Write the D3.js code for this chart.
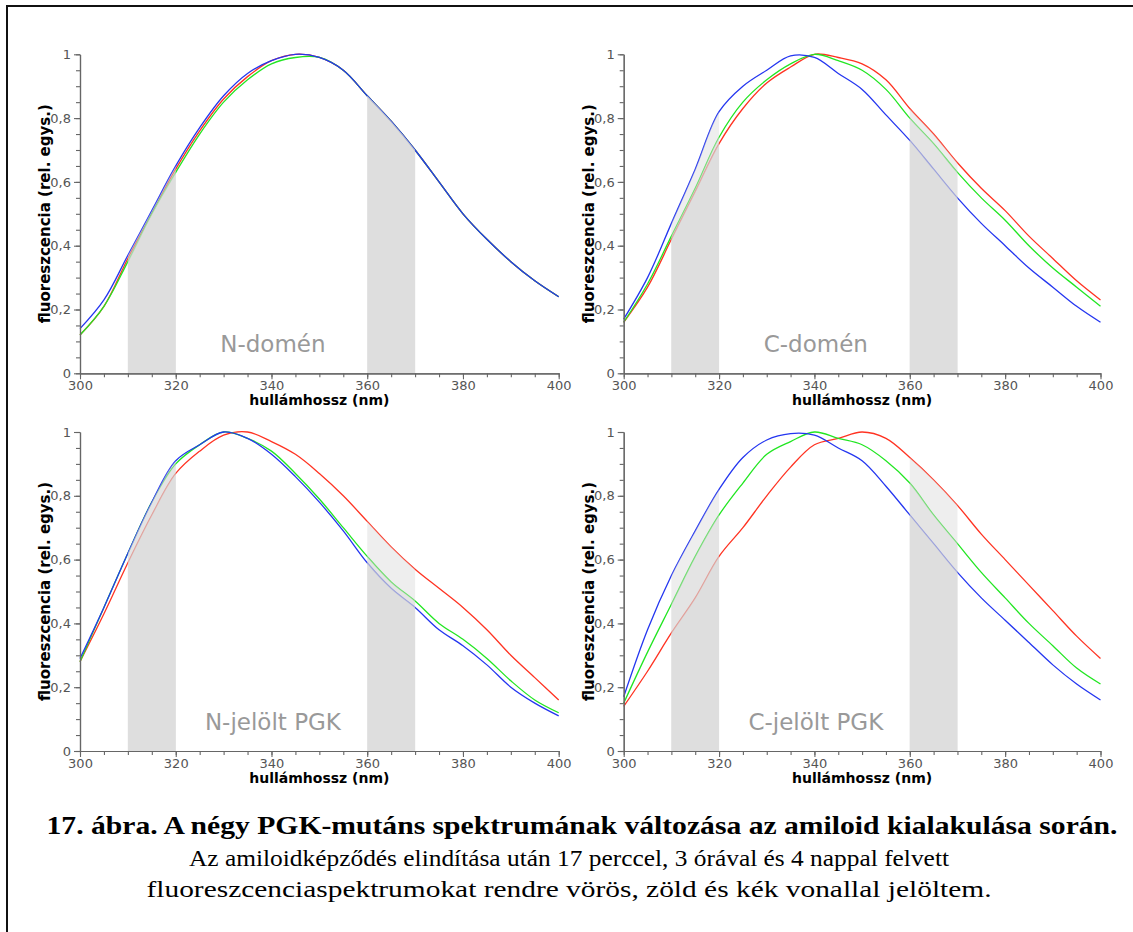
<!DOCTYPE html>
<html>
<head>
<meta charset="utf-8">
<script src="https://cdn.jsdelivr.net/npm/d3@7"></script>
<style>
  body { margin: 0; background: #fff; }
</style>
</head>
<body>
<div id="chart"></div>
<script>
// wavelength grid (nm)
const wavelengths = [300,305,310,315,320,325,330,335,340,345,350,355,360,365,370,375,380,385,390,395,400]

// N-domén
const nDomRed   = [0.12,0.21,0.36,0.50,0.64,0.76,0.86,0.93,0.98,1.00,0.99,0.95,0.87,0.79,0.70,0.60,0.50,0.42,0.35,0.29,0.24]
const nDomGreen = [0.12,0.21,0.35,0.50,0.63,0.75,0.85,0.92,0.97,0.99,0.99,0.95,0.87,0.79,0.70,0.60,0.50,0.42,0.35,0.29,0.24]
const nDomBlue  = [0.14,0.23,0.37,0.51,0.65,0.77,0.87,0.94,0.98,1.00,0.99,0.95,0.87,0.79,0.70,0.60,0.50,0.42,0.35,0.29,0.24]
// C-domén
const cDomRed   = [0.16,0.27,0.42,0.57,0.72,0.83,0.91,0.96,1.00,0.99,0.97,0.92,0.83,0.75,0.66,0.58,0.51,0.43,0.36,0.29,0.23]
const cDomGreen = [0.16,0.28,0.43,0.58,0.74,0.85,0.92,0.97,1.00,0.98,0.95,0.89,0.80,0.72,0.63,0.55,0.48,0.40,0.33,0.27,0.21]
const cDomBlue  = [0.17,0.30,0.47,0.64,0.82,0.90,0.95,0.995,0.99,0.94,0.89,0.81,0.73,0.64,0.55,0.47,0.40,0.33,0.27,0.21,0.16]
// N-jelölt PGK
const nPgkRed   = [0.28,0.43,0.59,0.74,0.87,0.94,0.99,1.00,0.97,0.93,0.87,0.80,0.72,0.64,0.57,0.51,0.45,0.38,0.30,0.23,0.16]
const nPgkGreen = [0.28,0.45,0.62,0.78,0.90,0.96,1.00,0.98,0.94,0.87,0.79,0.70,0.61,0.53,0.47,0.40,0.35,0.29,0.22,0.16,0.12]
const nPgkBlue  = [0.29,0.45,0.62,0.78,0.91,0.96,1.00,0.98,0.93,0.86,0.78,0.69,0.59,0.51,0.45,0.38,0.33,0.27,0.20,0.15,0.11]
// C-jelölt PGK
const cPgkRed   = [0.14,0.25,0.37,0.48,0.61,0.70,0.80,0.89,0.96,0.98,1.00,0.98,0.92,0.85,0.77,0.68,0.60,0.52,0.44,0.36,0.29]
const cPgkGreen = [0.15,0.31,0.46,0.61,0.74,0.84,0.93,0.97,1.00,0.98,0.96,0.91,0.84,0.74,0.65,0.56,0.48,0.40,0.33,0.26,0.21]
const cPgkBlue  = [0.17,0.38,0.55,0.69,0.82,0.92,0.975,0.995,0.99,0.95,0.91,0.83,0.74,0.65,0.56,0.48,0.41,0.34,0.27,0.21,0.16]

const panelNames = ["N-domén","C-domén","N-jelölt PGK","C-jelölt PGK"]
const panelSeries = [
  [nDomRed, nDomGreen, nDomBlue],
  [cDomRed, cDomGreen, cDomBlue],
  [nPgkRed, nPgkGreen, nPgkBlue],
  [cPgkRed, cPgkGreen, cPgkBlue]
]
const seriesColors = ["#ff3322","#22e622","#2436f0"]
const bands = [[310,320],[360,370]]
const xTickLabels = ["300","320","340","360","380","400"]
const yTickLabels = ["0","0,2","0,4","0,6","0,8","1"]

const captionTitle = "17. ábra. A négy PGK-mutáns spektrumának változása az amiloid kialakulása során."
const captionLines = [
  "Az amiloidképződés elindítása után 17 perccel, 3 órával és 4 nappal felvett",
  "fluoreszcenciaspektrumokat rendre vörös, zöld és kék vonallal jelöltem."
]

const width = 1133
const height = 932
const svg = d3.select("#chart")
  .append("svg")
  .attr("width", width)
  .attr("height", height)

// frame
svg.append("path")
  .attr("d", `M7,${height} L7,6 L${width},6`)
  .attr("fill", "none")
  .attr("stroke", "#111")
  .attr("stroke-width", 2)

const panelBoxes = [
  {x0: 80, x1: 558.7, y0: 54.3, y1: 373.3},
  {x0: 623.7, x1: 1100.5, y0: 54.3, y1: 373.3},
  {x0: 80, x1: 558.7, y0: 432, y1: 751},
  {x0: 623.7, x1: 1100.5, y0: 432, y1: 751}
]

const font = "'DejaVu Sans', sans-serif"
const serif = "'Times New Roman', 'Liberation Serif', Tinos, 'Nimbus Roman', Times, serif"

panelBoxes.forEach((b, i) => {
  const x = d3.scaleLinear().domain([300, 400]).range([b.x0, b.x1])
  const y = d3.scaleLinear().domain([0, 1]).range([b.y1, b.y0])
  const g = svg.append("g")

  const line = d3.line()
    .x((d, k) => x(wavelengths[k]))
    .y(d => y(d))
    .curve(d3.curveCatmullRom)

  const area = d3.area()
    .x((d, k) => x(wavelengths[k]))
    .y0(y(0))
    .y1(d => y(d))
    .curve(d3.curveCatmullRom)

  g.selectAll("path.spec")
    .data(panelSeries[i])
    .join("path")
    .attr("class", "spec")
    .attr("fill", "none")
    .attr("stroke", (d, k) => seriesColors[k])
    .attr("stroke-width", 1.3)
    .attr("d", line)

  // shaded areas under the curves, drawn on top
  const clipId = "clip" + i
  const clip = svg.append("clipPath").attr("id", clipId)
  clip.selectAll("rect")
    .data(bands)
    .join("rect")
    .attr("x", d => x(d[0]))
    .attr("width", d => x(d[1]) - x(d[0]))
    .attr("y", b.y0 - 5)
    .attr("height", b.y1 - b.y0 + 5)

  g.append("g")
    .attr("clip-path", `url(#${clipId})`)
    .selectAll("path")
    .data(panelSeries[i])
    .join("path")
    .attr("fill", "#d4d4d4")
    .attr("fill-opacity", 0.4)
    .attr("d", area)

  // axes: minor ticks
  const gxMinor = g.append("g")
    .attr("transform", `translate(0,${b.y1})`)
    .call(d3.axisBottom(x).tickValues(d3.range(300, 401, 5)).tickSize(4).tickFormat("").tickSizeOuter(0))
  const gyMinor = g.append("g")
    .attr("transform", `translate(${b.x0},0)`)
    .call(d3.axisLeft(y).tickValues(d3.range(0, 1.001, 0.05)).tickSize(4).tickFormat("").tickSizeOuter(0))

  const gx = g.append("g")
    .attr("transform", `translate(0,${b.y1})`)
    .call(d3.axisBottom(x).tickValues(xTickLabels.map(Number)).tickSize(6).tickPadding(2)
      .tickFormat((d, k) => xTickLabels[k]).tickSizeOuter(0))
  const gy = g.append("g")
    .attr("transform", `translate(${b.x0},0)`)
    .call(d3.axisLeft(y).tickValues([0, 0.2, 0.4, 0.6, 0.8, 1]).tickSize(6).tickPadding(3)
      .tickFormat((d, k) => yTickLabels[k]).tickSizeOuter(0))

  ;[gxMinor, gyMinor, gx, gy].forEach(a => {
    a.selectAll("path.domain").attr("stroke", "#666").attr("stroke-width", 1.2)
    a.selectAll(".tick line").attr("stroke", "#666").attr("stroke-width", 1.1)
    a.selectAll("text")
      .style("font-family", font)
      .style("font-size", "13px")
      .attr("fill", "#555")
  })
  gx.selectAll("text").attr("dy", null).attr("y", 17)

  // axis titles
  g.append("text")
    .attr("x", (b.x0 + b.x1) / 2)
    .attr("y", b.y1 + 32)
    .attr("text-anchor", "middle")
    .style("font-family", font)
    .style("font-size", "14px")
    .style("font-weight", "bold")
    .text("hullámhossz (nm)")

  g.append("text")
    .attr("transform", `translate(${b.x0 - 30},${(b.y0 + b.y1) / 2}) rotate(-90)`)
    .attr("text-anchor", "middle")
    .style("font-family", font)
    .style("font-size", "15px")
    .style("font-weight", "bold")
    .text("fluoreszcencia (rel. egys.)")

  // panel name
  g.append("text")
    .attr("x", x(340.3))
    .attr("y", b.y1 - 21)
    .attr("text-anchor", "middle")
    .style("font-family", font)
    .style("font-size", "23px")
    .attr("fill", "#999")
    .text(panelNames[i])
})

// caption
svg.append("text")
  .attr("x", 582)
  .attr("y", 834)
  .attr("text-anchor", "middle")
  .attr("textLength", 1071)
  .attr("lengthAdjust", "spacingAndGlyphs")
  .style("font-family", serif)
  .style("font-size", "26px")
  .style("font-weight", "bold")
  .text(captionTitle)

const captionWidths = [760, 845]
const captionY = [866, 897]
captionLines.forEach((t, k) => {
  svg.append("text")
    .attr("x", 569)
    .attr("y", captionY[k])
    .attr("text-anchor", "middle")
    .attr("textLength", captionWidths[k])
    .attr("lengthAdjust", "spacingAndGlyphs")
    .style("font-family", serif)
    .style("font-size", "24px")
    .text(t)
})
</script>
</body>
</html>
